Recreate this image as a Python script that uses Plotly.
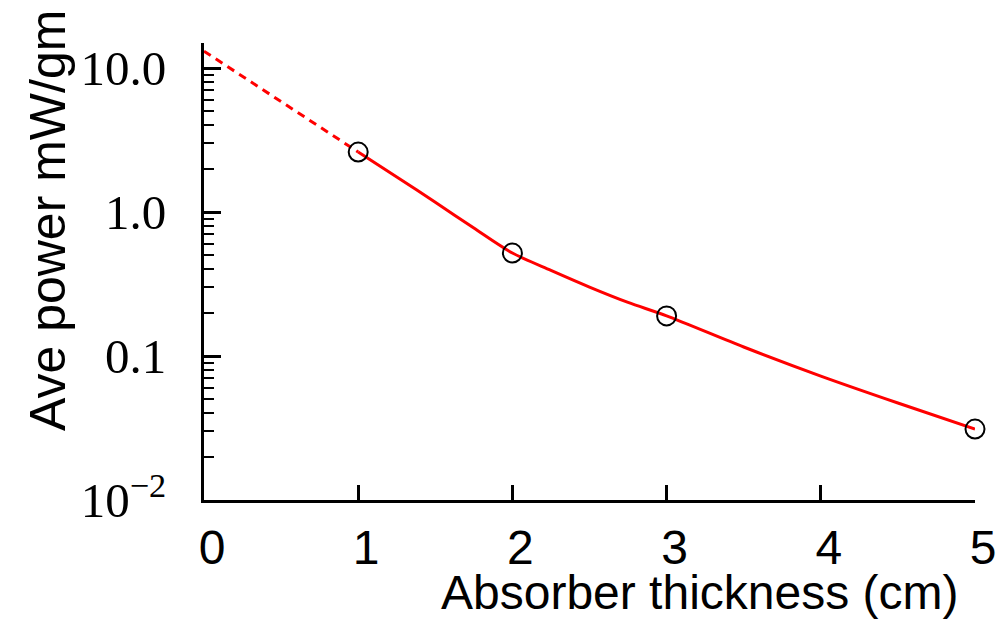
import plotly.graph_objects as go

# measured points
x_pts = [1, 2, 3, 5]
y_pts = [2.61, 0.519, 0.19, 0.0311]

# fitted curve (solid)
x_fit = [1, 1.25, 1.5, 1.75, 2, 2.25, 2.5, 2.75, 3, 3.5, 4, 4.5, 5]
y_fit = [2.61, 1.75, 1.17, 0.774, 0.519, 0.393, 0.301, 0.2355, 0.19, 0.1155, 0.0726, 0.0472, 0.0311]

# extrapolation (dashed)
x_ext = [0, 1]
y_ext = [13.1, 2.61]

y_tickvals = [0.01, 0.1, 1, 10]
y_ticktext = ["10<sup>\u22122</sup>", "0.1", "1.0", "10.0"]
x_tickvals = [0, 1, 2, 3, 4, 5]

W, H = 1007, 622
L, R, T, B = 204, 32, 43, 122

fig = go.Figure()
fig.add_trace(go.Scatter(x=x_ext, y=y_ext, mode="lines",
                         line=dict(color="red", width=3, dash="8px,6px"),
                         showlegend=False))
fig.add_trace(go.Scatter(x=x_fit, y=y_fit, mode="lines", line_shape="spline",
                         line=dict(color="red", width=3, smoothing=0.8), showlegend=False))
fig.add_trace(go.Scatter(x=x_pts, y=y_pts, mode="markers",
                         marker=dict(symbol="circle-open", size=19, color="black",
                                     line=dict(width=2, color="black")),
                         showlegend=False, cliponaxis=False))

fig.update_layout(
    width=W, height=H,
    margin=dict(l=L, r=R, t=T, b=B),
    paper_bgcolor="white", plot_bgcolor="white",
    xaxis=dict(range=[0, 5], tickvals=x_tickvals, showgrid=False, zeroline=False,
               showline=True, linecolor="black", linewidth=3,
               ticks="inside", ticklen=15, tickwidth=3, tickcolor="black",
               tickfont=dict(family="Liberation Sans", size=48, color="black"),
               ticklabelstandoff=3, ticklabelshift=8),
    yaxis=dict(type="log", range=[-2, 1.174], tickvals=y_tickvals, ticktext=y_ticktext,
               showgrid=False, zeroline=False,
               showline=True, linecolor="black", linewidth=3,
               ticks="inside", ticklen=17, tickwidth=3, tickcolor="black",
               tickfont=dict(family="Liberation Serif", size=49, color="black"),
               ticklabelstandoff=25,
               minor=dict(ticks="inside", ticklen=10, tickwidth=2, tickcolor="black",
                          dtick="D1", showgrid=False)),
)

pw = W - L - R
ph = H - T - B
def px_x(p):
    return (p - L) / pw
def px_y(p):
    return (H - B - p) / ph

fig.add_annotation(text="Absorber thickness (cm)", xref="paper", yref="paper",
                   x=px_x(960), y=px_y(621), xanchor="right", yanchor="bottom",
                   showarrow=False, font=dict(family="Liberation Sans", size=48, color="black"))
fig.add_annotation(text="Ave power mW/gm", xref="paper", yref="paper",
                   x=px_x(48), y=px_y(221), xanchor="center", yanchor="middle",
                   textangle=-90, showarrow=False,
                   font=dict(family="Liberation Sans", size=50, color="black"))

fig.write_html("out.html")
